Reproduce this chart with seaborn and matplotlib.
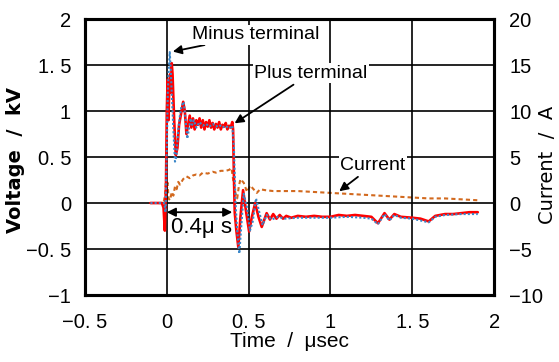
import numpy as np
import pandas as pd
import seaborn as sns
import matplotlib
matplotlib.use('Agg')
import matplotlib.pyplot as plt

sns.set_theme(style='white')
plt.rcParams['font.family'] = ['Liberation Sans', 'DejaVu Sans']
plt.rcParams['text.color'] = 'black'
plt.rcParams['axes.labelcolor'] = 'black'

# Plus terminal voltage (kV)
plus_t = [-0.1, -0.03, -0.02, -0.012, -0.005, 0.0, 0.005, 0.01, 0.015, 0.02, 0.025, 0.03,
          0.035, 0.045, 0.055, 0.065, 0.075, 0.085, 0.1, 0.11, 0.12, 0.13, 0.14, 0.15,
          0.16, 0.17, 0.18, 0.19, 0.2, 0.21, 0.22, 0.23, 0.24, 0.25, 0.26, 0.27, 0.28,
          0.29, 0.3, 0.31, 0.32, 0.33, 0.34, 0.35, 0.36, 0.37, 0.38, 0.39, 0.4, 0.405,
          0.41, 0.415, 0.425, 0.437, 0.45, 0.466, 0.485, 0.503, 0.52, 0.54, 0.56, 0.58,
          0.61, 0.63, 0.65, 0.67, 0.69, 0.71, 0.73, 0.76, 0.8, 0.85, 0.9, 0.95, 1.0,
          1.05, 1.1, 1.15, 1.2, 1.25, 1.29, 1.33, 1.36, 1.39, 1.43, 1.5, 1.55, 1.6,
          1.64, 1.7, 1.75, 1.8, 1.85, 1.9]
plus_v = [0.0, 0.0, -0.05, -0.3, 0.2, 1.0, 1.34, 0.9, 1.25, 1.4, 1.2, 1.52,
          1.4, 0.9, 0.52, 0.6, 0.85, 0.95, 1.1, 1.0, 0.75, 0.85, 0.95, 0.82,
          0.92, 0.8, 0.9, 0.85, 0.92, 0.82, 0.9, 0.8, 0.88, 0.83, 0.9, 0.82, 0.87,
          0.8, 0.86, 0.82, 0.88, 0.8, 0.85, 0.83, 0.87, 0.8, 0.84, 0.82, 0.88, 0.8,
          0.3, -0.1, -0.3, -0.48, -0.15, 0.14, -0.1, -0.31, -0.15, 0.0, -0.15, -0.26,
          -0.11, -0.18, -0.12, -0.17, -0.13, -0.17, -0.14, -0.16, -0.14, -0.15, -0.14, -0.15, -0.15,
          -0.13, -0.14, -0.13, -0.14, -0.15, -0.22, -0.11, -0.18, -0.12, -0.15, -0.16, -0.17, -0.2,
          -0.14, -0.12, -0.12, -0.11, -0.1, -0.1]

# Minus terminal voltage (kV)
minus_t = [-0.1, -0.03, -0.015, -0.008, 0.0, 0.006, 0.012, 0.018, 0.024, 0.03, 0.04, 0.05,
           0.058, 0.068, 0.08, 0.09, 0.103, 0.115, 0.125, 0.135, 0.145, 0.155, 0.165,
           0.18, 0.2, 0.22, 0.24, 0.26, 0.28, 0.3, 0.32, 0.34, 0.36, 0.38, 0.4, 0.41,
           0.42, 0.43, 0.443, 0.455, 0.47, 0.49, 0.508, 0.525, 0.545, 0.565, 0.585,
           0.61, 0.64, 0.68, 0.72, 0.8, 0.9, 1.0, 1.1, 1.2, 1.25, 1.29, 1.33, 1.36,
           1.39, 1.43, 1.5, 1.6, 1.64, 1.7, 1.8, 1.9]
minus_v = [0.0, 0.0, 0.0, -0.1, 0.6, 1.2, 1.45, 1.64, 1.45, 1.2, 0.8, 0.45,
           0.5, 0.75, 0.95, 1.05, 1.1, 0.9, 0.7, 0.8, 0.92, 0.85, 0.9,
           0.82, 0.88, 0.84, 0.86, 0.83, 0.86, 0.83, 0.85, 0.82, 0.84, 0.81, 0.84, 0.6,
           0.0, -0.3, -0.55, -0.25, 0.1, -0.05, -0.3, -0.2, 0.05, -0.1, -0.24,
           -0.13, -0.18, -0.15, -0.17, -0.16, -0.16, -0.16, -0.15, -0.16, -0.17, -0.23, -0.12, -0.19,
           -0.13, -0.16, -0.17, -0.21, -0.15, -0.13, -0.12, -0.12]

# Current (A)
cur_t = [-0.1, -0.02, -0.01, -0.005, 0.0, 0.005, 0.01, 0.02, 0.03, 0.04, 0.05, 0.06,
         0.07, 0.08, 0.1, 0.12, 0.14, 0.16, 0.18, 0.2, 0.22, 0.25, 0.28, 0.3, 0.33,
         0.36, 0.38, 0.395, 0.41, 0.42, 0.43, 0.44, 0.45, 0.47, 0.49, 0.51, 0.53,
         0.55, 0.57, 0.6, 0.65, 0.7, 0.8, 0.9, 1.0, 1.1, 1.2, 1.3, 1.4, 1.5, 1.6,
         1.7, 1.8, 1.9]
cur_a = [0.0, 0.0, 1.0, 2.5, 1.5, 2.2, 0.5, 0.3, 1.2, 0.8, 1.8, 1.5,
         2.3, 2.0, 2.6, 2.9, 2.7, 3.0, 3.1, 3.0, 3.3, 3.2, 3.4, 3.3, 3.5,
         3.5, 3.6, 3.8, 2.0, 1.0, 0.5, 1.8, 2.6, 2.2, 1.2, 1.9, 1.5,
         1.1, 1.5, 1.4, 1.3, 1.3, 1.3, 1.2, 1.1, 1.0, 0.9, 0.8, 0.7, 0.6, 0.5,
         0.5, 0.4, 0.3]

x_ticks = [-0.5, 0, 0.5, 1, 1.5, 2]
x_labels = ['\u22120. 5', '0', '0. 5', '1', '1. 5', '2']
v_ticks = [-1, -0.5, 0, 0.5, 1, 1.5, 2]
v_labels = ['\u22121', '\u22120. 5', '0', '0. 5', '1', '1. 5', '2']
i_ticks = [-10, -5, 0, 5, 10, 15, 20]
i_labels = ['\u221210', '\u22125', '0', '5', '10', '15', '20']

plus = pd.DataFrame({'t': plus_t, 'v': plus_v})
minus = pd.DataFrame({'t': minus_t, 'v': minus_v})
cur = pd.DataFrame({'t': cur_t, 'a': cur_a})

fig = plt.figure(figsize=(5.59, 3.62), dpi=100)
ax = fig.add_axes([0.152, 0.185, 0.732, 0.7625])
ax2 = ax.twinx()

sns.lineplot(data=cur, x='t', y='a', ax=ax2, color='#d2691e', lw=1.5,
             linestyle=(0, (2, 1.5)), zorder=2)
sns.lineplot(data=plus, x='t', y='v', ax=ax, color='#ff0000', lw=1.9, zorder=3)
sns.lineplot(data=minus, x='t', y='v', ax=ax, color='#3a86c8', lw=1.5,
             linestyle=(0, (1, 1)), zorder=4)

ax.set_xlim(-0.5, 2)
ax.set_ylim(-1, 2)
ax2.set_ylim(-10, 20)
ax.set_xticks(x_ticks, x_labels)
ax.set_yticks(v_ticks, v_labels)
ax2.set_yticks(i_ticks, i_labels)
ax.grid(True, color='black', lw=1.2)
ax.set_axisbelow(True)
ax.set_zorder(ax2.get_zorder() + 1)
ax.patch.set_visible(False)
ax2.patch.set_visible(True)
ax2.patch.set_facecolor('white')

for a in (ax, ax2):
    a.tick_params(length=0, labelsize=14.5, colors='black')
    for s in a.spines.values():
        s.set_color('black')
        s.set_linewidth(2.2)
ax.tick_params(axis='y', pad=10)
ax.tick_params(axis='x', pad=13)
ax2.tick_params(axis='y', pad=11)

ax.set_xlabel('Time  /  \u03bcsec', fontsize=15)
ax.xaxis.set_label_coords(0.5, -0.134)
ax.set_ylabel('Voltage  /  kV', fontsize=14, family=['DejaVu Sans'], fontweight='bold')
ax.yaxis.set_label_coords(-0.147, 0.49)
ax2.set_ylabel('Current  /  A', fontsize=14, family=['DejaVu Sans'], rotation=90)
ax2.yaxis.set_label_coords(1.108, 0.47)

box = dict(facecolor='white', edgecolor='none', pad=1)
arrow = dict(arrowstyle='-|>', color='black', lw=1.3, mutation_scale=13)
ax.annotate('Minus terminal', xy=(0.02, 1.64), xytext=(0.54, 1.83), ha='center', va='center',
            fontsize=14, bbox=box, arrowprops=arrow, zorder=6)
ax.annotate('Plus terminal', xy=(0.40, 0.85), xytext=(0.88, 1.41), ha='center', va='center',
            fontsize=14, bbox=box, arrowprops=arrow, zorder=6)
ax.annotate('Current', xy=(1.04, 0.11), xytext=(1.26, 0.41), ha='center', va='center',
            fontsize=14, bbox=box, arrowprops=arrow, zorder=6)
ax.annotate('', xy=(0.0, -0.1), xytext=(0.4, -0.1),
            arrowprops=dict(arrowstyle='<|-|>', color='black', lw=1.3, mutation_scale=13,
                            shrinkA=0, shrinkB=0), zorder=6)
ax.text(0.21, -0.27, '0.4\u03bc s', ha='center', va='center', fontsize=16, zorder=6)

fig.savefig('out.png', dpi=100)
